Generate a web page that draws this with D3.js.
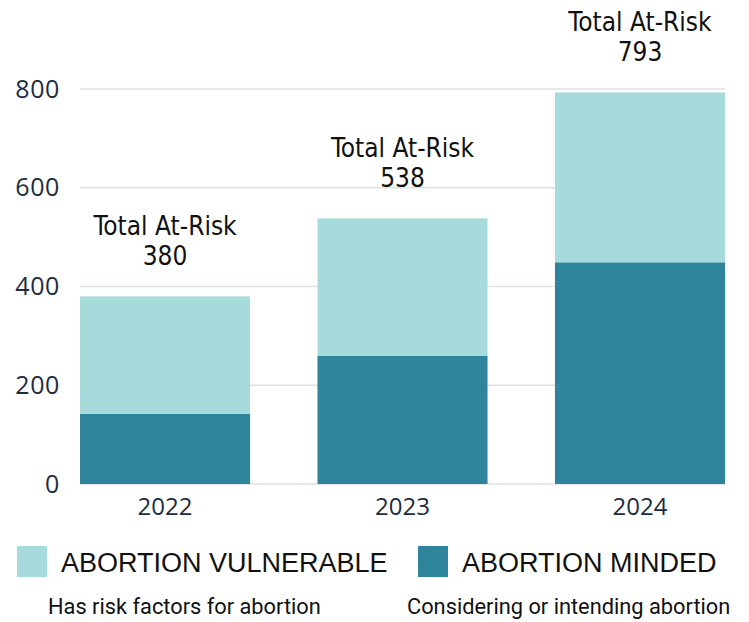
<!DOCTYPE html>
<html>
<head>
<meta charset="utf-8">
<script src="https://cdn.jsdelivr.net/npm/d3@7"></script>
<style>
  body { margin: 0; background: #fff; }
  svg { display: block; }
</style>
</head>
<body>
<main></main>
<script>
// Data
const years = ["2022", "2023", "2024"];
const minded = [142, 260, 449];
const vulnerable = [238, 278, 344];
const totals = [380, 538, 793];
const yTicks = [0, 200, 400, 600, 800];
const seriesNames = ["ABORTION VULNERABLE", "ABORTION MINDED"];
const seriesNotes = ["Has risk factors for abortion", "Considering or intending abortion"];

const width = 749;
const height = 622;
const colors = { minded: "#2e849b", vulnerable: "#a7dbdb" };
const axisColor = "#1c2d42";

const svg = d3
  .select("main")
  .append("svg")
  .attr("width", width)
  .attr("height", height);

// Scales
const xScale = d3.scaleBand().domain(years).range([80, 725]).paddingInner(0.284).paddingOuter(0);
const yScale = d3.scaleLinear().domain([0, 800]).range([484, 89]);

// Gridlines
svg
  .append("g")
  .selectAll("line")
  .data(yTicks)
  .enter()
  .append("line")
  .attr("x1", 80)
  .attr("x2", 725)
  .attr("y1", (d) => yScale(d))
  .attr("y2", (d) => yScale(d))
  .attr("stroke", "#dde1e6")
  .attr("stroke-width", 1.5);

// Y axis labels
const yAxis = d3.axisLeft(yScale).tickValues(yTicks).tickSize(0).tickPadding(20);
const yG = svg.append("g").attr("transform", "translate(80,0)").call(yAxis);
yG.select(".domain").remove();
yG.selectAll("text")
  .attr("fill", axisColor)
  .style("font-family", "'Open Sans', sans-serif")
  .style("font-size", "25px")
  .style("font-weight", 500)
  .style("letter-spacing", "0.6px");

// X axis labels
const xAxis = d3.axisBottom(xScale).tickSize(0).tickPadding(14);
const xG = svg.append("g").attr("transform", "translate(0,484)").call(xAxis);
xG.select(".domain").remove();
xG.selectAll("text")
  .attr("fill", axisColor)
  .style("font-family", "'Open Sans', sans-serif")
  .style("font-size", "24px")
  .style("font-weight", 500);

// Stacked bars
const rows = years.map((y, i) => ({ year: y, minded: minded[i], vulnerable: vulnerable[i] }));
const stack = d3.stack().keys(["minded", "vulnerable"])(rows);

svg
  .append("g")
  .selectAll("g")
  .data(stack)
  .enter()
  .append("g")
  .attr("fill", (s) => colors[s.key])
  .selectAll("rect")
  .data((s) => s)
  .enter()
  .append("rect")
  .attr("x", (d) => xScale(d.data.year))
  .attr("y", (d) => yScale(d[1]))
  .attr("width", xScale.bandwidth())
  .attr("height", (d) => yScale(d[0]) - yScale(d[1]));

// Total annotations
const notes = svg
  .append("g")
  .selectAll("text")
  .data(years)
  .enter()
  .append("text")
  .attr("text-anchor", "middle")
  .attr("fill", "#111")
  .style("font-family", "'DejaVu Sans Condensed', 'DejaVu Sans', sans-serif")
  .style("font-stretch", "condensed")
  .style("font-size", "26px");

notes
  .append("tspan")
  .attr("x", (d) => xScale(d) + xScale.bandwidth() / 2)
  .attr("y", (d, i) => yScale(totals[i]) - 61)
  .text("Total At-Risk");

notes
  .append("tspan")
  .attr("x", (d) => xScale(d) + xScale.bandwidth() / 2)
  .attr("y", (d, i) => yScale(totals[i]) - 31)
  .text((d, i) => totals[i]);

// Legend
const legendX = [17, 418];
const legendColors = [colors.vulnerable, colors.minded];
const legend = svg
  .append("g")
  .selectAll("g")
  .data(seriesNames)
  .enter()
  .append("g")
  .attr("transform", (d, i) => `translate(${legendX[i]}, 546)`);

legend
  .append("rect")
  .attr("width", 30)
  .attr("height", 31)
  .attr("fill", (d, i) => legendColors[i]);

legend
  .append("text")
  .attr("x", 44)
  .attr("y", 26)
  .attr("fill", "#111")
  .style("font-family", "'Liberation Sans', Arial, sans-serif")
  .style("font-size", "27px")
  .text((d) => d);

legend
  .append("text")
  .attr("x", (d, i) => (i === 0 ? 31 : -11))
  .attr("y", 68)
  .attr("fill", "#111")
  .style("font-family", "Roboto, sans-serif")
  .style("font-size", "21.8px")
  .text((d, i) => seriesNotes[i]);
</script>
</body>
</html>
